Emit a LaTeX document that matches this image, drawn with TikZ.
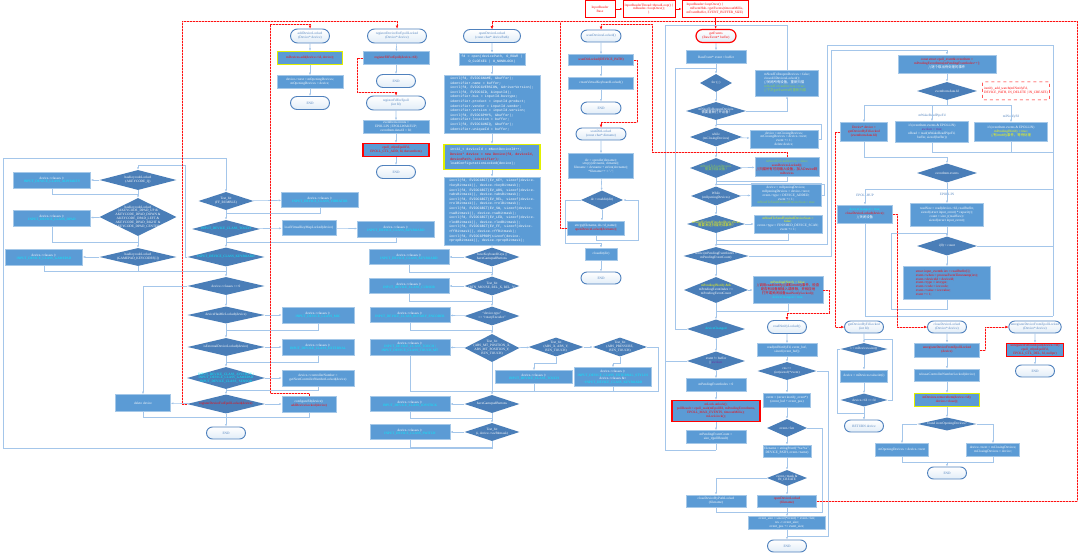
\documentclass[tikz,border=0pt]{standalone}
\usepackage{fontspec}
\setmainfont{Liberation Serif}
\setmonofont{Liberation Mono}
\newfontfamily\cjk{Noto Sans CJK SC}
\usepackage{tikz}
\usetikzlibrary{shapes.misc}
\usetikzlibrary{shapes.geometric}
\usetikzlibrary{positioning}
\usetikzlibrary{arrows.meta}
\definecolor{boxblue}{HTML}{5B9BD5}
\definecolor{decblue}{HTML}{4A7EB8}
\definecolor{lineblue}{HTML}{A4C6EA}
\definecolor{capblue}{HTML}{4F81BD}
\definecolor{cyantext}{HTML}{00F0FF}
\definecolor{greentext}{HTML}{92D050}
\definecolor{yellowtext}{HTML}{FFFF00}
\definecolor{hlyellow}{HTML}{E2F000}
\definecolor{purpletext}{HTML}{7030A0}
\definecolor{callred}{HTML}{FF1010}
\newcommand{\fs}{\fontsize{3.4pt}{3.9pt}\selectfont}
\newcommand{\fc}{\ttfamily\fontsize{3.4pt}{4.6pt}\selectfont}
\newcommand{\cyn}[1]{\textcolor{cyantext}{#1}}
\newcommand{\rdt}[1]{\textcolor{red}{#1}}
\newcommand{\grn}[1]{\textcolor{greentext}{#1}}
\newcommand{\ylw}[1]{\textcolor{yellowtext}{#1}}
\newcommand{\prp}[1]{\textcolor{purpletext}{#1}}
\tikzset{
sz/.style 2 args={minimum width=#1pt, minimum height=#2pt},
box/.style={rectangle, fill=boxblue, draw=boxblue!55!white, line width=0.5pt, text=white, font=\fs, align=center, inner sep=1pt},
codebox/.style={box, font=\fc, align=left},
dec/.style={diamond, fill=decblue, inner sep=0pt},
dectext/.style={text=white, font=\fs, align=center, inner sep=0pt},
term/.style={rounded rectangle, draw=capblue, line width=0.9pt, top color=white, bottom color=boxblue!18, text=capblue, font=\fs, align=center, inner sep=1pt},
hl/.style={draw=hlyellow, line width=1.1pt},
redframe/.style={draw=red, line width=1.1pt},
topbox/.style={rectangle, draw=red, line width=0.7pt, fill=white, text=red, font=\fs, align=center, inner sep=1pt},
note/.style={rectangle, rounded corners=1pt, draw=red, dashed, line width=0.5pt, fill=white, text=red, font=\fs, align=left, inner sep=1.5pt},
branch/.style={text=capblue, font=\fs, inner sep=0.5pt},
flow/.style={draw=lineblue, line width=0.6pt},
call/.style={color=callred, line width=0.9pt, dash pattern=on 2pt off 1pt, preaction={draw=red!30, solid, line width=0.9pt, -}, -{Latex[length=3pt,width=2.8pt]}},
}
\begin{document}
\begin{tikzpicture}[x=1pt, y=-1pt, >={Latex[length=2.5pt,width=2pt]}]
\fill[white] (0,0) rectangle (1080,553);
\useasboundingbox (0,0) rectangle (1080,553);

% entry from InputReader
\node[topbox, sz={30}{17}] (readerbase) at (600,9) {InputReader\\Base};
\node[topbox, sz={52}{17}] (readerthread) at (649,9) {InputReaderThread::threadLoop() \{\\mReader->loopOnce();\\\}};
\node[topbox, sz={66}{17}, align=left] (looponce) at (715,9) {InputReader::loopOnce() \{\\\quad mEventHub->getEvents(timeoutMillis,\\mEventBuffer, EVENT\_BUFFER\_SIZE)};

% addDeviceLocked
\node[term, sz={41}{14}] (adddev) at (310,36) {addDeviceLocked\\(Device* device)};
\node[box, hl, sz={65}{13}] (addmap) at (310,58) {\rdt{mDevices.add(device->id, device);}};
\node[box, sz={66}{13}] (addlist) at (310,82) {device->next = mOpeningDevices;\\mOpeningDevices = device;};
\node[term, sz={41}{13}] (addend) at (310,103) {END};

% registerDeviceForEpollLocked
\node[term, sz={61}{14}] (regdev) at (397,36) {registerDeviceForEpollLocked\\(Device* device)};
\node[box, sz={66}{13}] (regfd) at (396,58) {\rdt{registerFdForEpoll(device->fd)}};
\node[term, sz={41}{13}] (regend) at (396,81) {END};
\node[term, sz={61}{14}] (regepoll) at (396,103) {registerFdForEpoll\\(int fd)};
\node[box, sz={66}{13}] (evitem) at (396,127) {eventItem.events =\\EPOLLIN | EPOLLWAKEUP;\\eventItem.data.fd = fd;};
\node[box, redframe, sz={66}{13}] (epctl) at (396,150) {\rdt{epoll\_ctl(mEpollFd,}\\\rdt{EPOLL\_CTL\_ADD, fd, \&eventItem)}};
\node[term, sz={41}{13}] (epend) at (396,172) {END};

% openDeviceLocked
\node[term, sz={59}{13}] (opendev) at (492,36) {openDeviceLocked\\(const char* devicePath)};
\node[codebox, sz={66}{12}, align=center] (openfd) at (492,59) {fd = open(devicePath, O\_RDWR |\\O\_CLOEXEC | O\_NONBLOCK)};
\node[codebox, sz={96}{58}] (ident) at (492,104) {ioctl(fd, EVIOCGNAME, \&buffer);\\identifier.name = buffer;\\ioctl(fd, EVIOCGVERSION, \&driverVersion);\\ioctl(fd, EVIOCGID, \&inputId);\\identifier.bus = inputId.bustype;\\identifier.product = inputId.product;\\identifier.vendor = inputId.vendor;\\identifier.version = inputId.version;\\ioctl(fd, EVIOCGPHYS, \&buffer);\\identifier.location = buffer;\\ioctl(fd, EVIOCGUNIQ, \&buffer);\\identifier.uniqueId = buffer;};
\node[codebox, hl, sz={96}{25}] (newdev) at (492,157) {int32\_t deviceId = mNextDeviceId++;\\\rdt{Device* device = new Device(fd, deviceId,}\\\rdt{devicePath, identifier);}\\loadConfigurationLocked(device);};
\node[codebox, sz={96}{68}] (bits) at (492,211) {ioctl(fd, EVIOCGBIT(EV\_KEY, sizeof(device-\\>keyBitmask)), device->keyBitmask);\\ioctl(fd, EVIOCGBIT(EV\_ABS, sizeof(device-\\>absBitmask)), device->absBitmask);\\ioctl(fd, EVIOCGBIT(EV\_REL, sizeof(device-\\>relBitmask)), device->relBitmask);\\ioctl(fd, EVIOCGBIT(EV\_SW, sizeof(device-\\>swBitmask)), device->swBitmask);\\ioctl(fd, EVIOCGBIT(EV\_LED, sizeof(device-\\>ledBitmask)), device->ledBitmask);\\ioctl(fd, EVIOCGBIT(EV\_FF, sizeof(device-\\>ffBitmask)), device->ffBitmask);\\ioctl(fd, EVIOCGPROP(sizeof(device-\\>propBitmask)), device->propBitmask);};
\node[dec, sz={55}{19}] (haskbd) at (492,257) {};
\node[dectext] (haskbd-t) at (haskbd) {haveKeyboardKeys ||\\haveGamepadButtons};
\node[box, sz={80}{15}] (kbdcls) at (409,257) {device->classes |=\\\cyn{INPUT\_DEVICE\_CLASS\_KEYBOARD}};
\node[dec, sz={55}{19}] (hasmouse) at (492,286) {};
\node[dectext] (hasmouse-t) at (hasmouse) {Test\_bit\\(BTN\_MOUSE, REL\_X, REL\_Y)};
\node[box, sz={80}{15}] (cursorcls) at (409,286) {device->classes |=\\\cyn{INPUT\_DEVICE\_CLASS\_CURSOR}};
\node[dec, sz={55}{19}] (isrotary) at (492,316) {};
\node[dectext] (isrotary-t) at (isrotary) {``device.type''\\== ``rotaryEncoder''};
\node[box, sz={80}{15}] (rotarycls) at (410,315) {device->classes |=\\\cyn{INPUT\_DEVICE\_CLASS\_ROTARY\_ENCODER}};
\node[dec, sz={55}{28}] (hasmt) at (492,348) {};
\node[dectext] (hasmt-t) at (hasmt) {Test\_bit\\(ABS\_MT\_POSITION\_X,\\ABS\_MT\_POSITION\_Y,\\BTN\_TOUCH)};
\node[box, sz={80}{16}] (touchmtcls) at (410,347) {device->classes |=\\\cyn{INPUT\_DEVICE\_CLASS\_TOUCH |}\\\cyn{INPUT\_DEVICE\_CLASS\_TOUCH\_MT}};
\node[dec, sz={55}{19}] (hastouch) at (556,347) {};
\node[dectext] (hastouch-t) at (hastouch) {Test\_bit\\(ABS\_X, ABS\_Y,\\BTN\_TOUCH)};
\node[box, sz={77}{13}] (touchcls) at (534,377) {device->classes |=\\\cyn{INPUT\_DEVICE\_CLASS\_TOUCH}};
\node[dec, sz={54}{19}] (hasstylus) at (620,347) {};
\node[dectext] (hasstylus-t) at (hasstylus) {Test\_bit\\(ABS\_PRESSURE,\\BTN\_TOUCH)};
\node[box, sz={77}{19}] (styluscls) at (613,377) {device->classes |=\\\cyn{INPUT\_DEVICE\_CLASS\_EXTERNAL\_STYLUS}\\device->classes \&=\\\cyn{\textasciitilde INPUT\_DEVICE\_CLASS\_KEYBOARD}};
\node[dec, sz={55}{18}] (hasgp) at (492,404) {};
\node[dectext] (hasgp-t) at (hasgp) {haveGamepadButtons};
\node[box, sz={80}{15}] (joycls) at (410,404) {device->classes |=\\\cyn{INPUT\_DEVICE\_CLASS\_JOYSTICK}};
\node[dec, sz={55}{18}] (hassw) at (492,432) {};
\node[dectext] (hassw-t) at (hassw) {Test\_bit\\(i, device->swBitmask)};
\node[box, sz={80}{15}] (swcls) at (410,432) {device->classes |=\\\cyn{INPUT\_DEVICE\_CLASS\_SWITCH}};

% class checks, second trunk
\node[dec, sz={55}{18}] (hasrumble) at (226,201) {};
\node[dectext] (hasrumble-t) at (hasrumble) {Test\_bit\\(FF\_RUMBLE)};
\node[box, sz={77}{15}] (vibcls) at (320,200) {device->classes |=\\\cyn{INPUT\_DEVICE\_CLASS\_VIBRATOR}};
\node[dec, sz={68}{18}] (istouch) at (226,229) {};
\node[dectext] (istouch-t) at (istouch) {\cyn{INPUT\_DEVICE\_CLASS\_TOUCH}};
\node[box, sz={54}{15}] (vkeymap) at (309,228) {loadVirtualKeyMapLocked(device)};
\node[box, sz={77}{16}] (kbdcls2) at (396,229) {device->classes |=\\\cyn{INPUT\_DEVICE\_CLASS\_KEYBOARD}};
\node[dec, sz={77}{19}] (iskbd) at (226,257) {};
\node[dectext] (iskbd-t) at (iskbd) {\cyn{INPUT\_DEVICE\_CLASS\_KEYBOARD}};
\node[dec, sz={77}{18}] (noclass) at (226,286) {};
\node[dectext] (noclass-t) at (noclass) {device->classes == 0};
\node[dec, sz={77}{17}] (hasmic) at (226,315) {};
\node[dectext] (hasmic-t) at (hasmic) {deviceHasMicLocked(device)};
\node[box, sz={72}{16}] (miccls) at (318,315) {device->classes |=\\\cyn{INPUT\_DEVICE\_CLASS\_MIC}};
\node[dec, sz={77}{18}] (isext) at (226,347) {};
\node[dectext] (isext-t) at (isext) {isExternalDeviceLocked(device)};
\node[box, sz={72}{16}] (extcls) at (318,347) {device->classes |=\\\cyn{INPUT\_DEVICE\_CLASS\_EXTERNAL}};
\node[dec, sz={78}{22}] (isctrl) at (226,378) {};
\node[dectext] (isctrl-t) at (isctrl) {\cyn{INPUT\_DEVICE\_CLASS\_JOYSTICK |}\\\cyn{INPUT\_DEVICE\_CLASS\_GAMEPAD}\\\cyn{INPUT\_DEVICE\_CLASS\_ SENSOR}};
\node[box, sz={72}{16}] (ctrlnum) at (318,378) {device->controllerNumber =\\getNextControllerNumberLocked(device)};
\node[dec, sz={78}{19}] (regq) at (226,404) {};
\node[dectext] (regq-t) at (regq) {\rdt{registerDeviceForEpollLocked(device)}};
\node[box, sz={54}{16}] (cfgfd) at (309,404) {configureFd(device);\\\rdt{addDeviceLocked(device)}};
\node[box, sz={55}{17}] (deldev) at (143,403) {delete device};
\node[term, sz={41}{12}] (openend) at (226,433) {END};

% key checks
\node[dec, sz={77}{20}] (keyq) at (138,180) {};
\node[dectext] (keyq-t) at (keyq) {hasKeycodeLocked\\(AKEYCODE\_Q)};
\node[box, sz={77}{16}] (alphacls) at (52,180) {device->classes |=\\\cyn{INPUT\_DEVICE\_CLASS\_ALPHAKEY}};
\node[dec, sz={77}{38}] (keydpad) at (138,217) {};
\node[dectext] (keydpad-t) at (keydpad) {hasKeycodeLocked\\(AKEYCODE\_DPAD\_UP \&\\AKEYCODE\_DPAD\_DOWN \&\\AKEYCODE\_DPAD\_LEFT \&\\AKEYCODE\_DPAD\_RIGHT \&\\AKEYCODE\_DPAD\_CENTER)};
\node[box, sz={77}{16}] (dpadcls) at (52,218) {device->classes |=\\\cyn{INPUT\_DEVICE\_CLASS\_DPAD}};
\node[dec, sz={77}{18}] (keygp) at (138,257) {};
\node[dectext] (keygp-t) at (keygp) {hasKeycodeLocked\\(GAMEPAD\_KEYCODES[i])};
\node[box, sz={77}{16}] (gpcls) at (44,257) {device->classes |=\\\cyn{INPUT\_DEVICE\_CLASS\_GAMEPAD}};

% scanDevicesLocked / scanDirLocked
\node[term, sz={42}{12}] (scandevs) at (601,36) {scanDevicesLocked()};
\node[box, sz={65}{11}] (scandir) at (601,60) {\rdt{scanDirLocked(DEVICE\_PATH)}};
\node[box, sz={65}{12}] (vkbd) at (601,83) {createVirtualKeyboardLocked()};
\node[term, sz={42}{12}] (scanend) at (601,108) {END};
\node[term, sz={52}{12}] (scandirfn) at (601,134) {scanDirLocked\\(const char* dirname)};
\node[box, sz={65}{25}] (opendir) at (601,166) {dir = opendir(dirname);\\strcpy(devname, dirname);\\filename = devname + strlen(devname);\\*filename++ = '/';};
\node[dec, sz={42}{19}] (readdir) at (602,200) {};
\node[dectext] (readdir-t) at (readdir) {de = readdir(dir)};
\node[box, sz={57}{14}] (openentry) at (596,228) {strcpy(filename, de->d\_name);\\\rdt{openDeviceLocked(devname);}};
\node[box, sz={32}{12}] (closedir) at (601,254) {closedir(dir)};
\node[term, sz={42}{12}] (dirend) at (601,278) {END};

% getEvents
\node[term, draw=red, line width=1.2pt, text=red, sz={42}{13}] (getev) at (716,36) {getEvents\\(RawEvent* buffer)};
\node[box, sz={60}{13}] (evbuf) at (716,57) {RawEvent* event = buffer};
\node[dec, sz={32}{18}] (forever) at (716,83) {};
\node[dectext] (forever-t) at (forever) {for (;;)};
\node[dec, sz={60}{18}] (reopen) at (716,111) {};
\node[dectext] (reopen-t) at (reopen) {mNeedToReopenDevices\\{\cjk 需要重新打开设备?}};
\node[box, sz={63}{26}, align=left] (reopenb) at (787,83) {mNeedToReopenDevices = false;\\closeAllDevicesLocked();\\{\cjk //关闭所有设备，重新扫描}\\\grn{mNeedToScanDevices = true;}\\\grn{{\cjk //下次getEvents时重新扫描}}};
\node[dec, sz={52}{19}] (closing) at (716,137) {};
\node[dectext] (closing-t) at (closing) {while\\(mClosingDevices)};
\node[box, sz={68}{18}] (closingb) at (784,139) {device = mClosingDevices;\\mClosingDevices = device->next;\\event += 1;\\delete device;};
\node[dec, sz={52}{20}] (scanq) at (716,168) {};
\node[dectext] (scanq-t) at (scanq) {\grn{mNeedToScanDevices}\\\grn{{\cjk 需要扫描设备?}}};
\node[box, sz={64}{19}] (scanb) at (787,167) {\grn{mNeedToScanDevices = false;}\\\rdt{scanDevicesLocked();}\\\rdt{{\cjk //扫描所有可用输入设备，加入Device到}}\\\rdt{mDevices}};
\node[dec, sz={50}{19}] (opening) at (716,196) {};
\node[dectext] (opening-t) at (opening) {While\\(mOpeningDevices)};
\node[box, sz={70}{23}] (openingb) at (786,195) {device = mOpeningDevices;\\mOpeningDevices = device->next;\\event->type = DEVICE\_ADDED;\\event += 1;\\\grn{mNeedToSendFinishedDeviceScan = true}};
\node[dec, sz={58}{18}] (finq) at (716,224) {};
\node[dectext] (finq-t) at (finq) {\ylw{mNeedToSendFinishedDeviceScan}\\\ylw{{\cjk 需要发送扫描完成事件?}}};
\node[box, sz={68}{18}] (finb) at (788,224) {\ylw{mNeedToSendFinishedDeviceScan =}\\\ylw{false;}\\event->type = FINISHED\_DEVICE\_SCAN;\\event += 1;};
\node[dec, sz={65}{18}] (pending) at (716,256) {};
\node[dectext] (pending-t) at (pending) {while (mPendingEventIndex <\\mPendingEventCount)};
\node[dec, sz={64}{26}] (inotq) at (716,290) {};
\node[dectext] (inotq-t) at (inotq) {\ylw{mPendingINotify \&\&}\\mPendingEventIndex >=\\mPendingEventCount};
\node[box, sz={70}{27}] (notifyb) at (788,290) {\ylw{mPendingINotify = false;}\\\rdt{{\cjk //调用readNotify()读取inotify事件，检查}}\\\rdt{{\cjk 是否有设备被插入或移除，并相应地}}\\\rdt{{\cjk 打开或关闭设备}readNotifyLocked();}\\\cyn{deviceChanged = true;}};
\node[dec, sz={58}{19}] (changed) at (716,329) {};
\node[dectext] (changed-t) at (changed) {\cyn{deviceChanged}};
\node[dec, sz={58}{19}] (awake) at (716,361) {};
\node[dectext] (awake-t) at (awake) {event != buffer\\|| \prp{awoken}};
\node[box, sz={60}{13}] (pidx) at (716,385) {mPendingEventIndex = 0};
\node[box, redframe, sz={88}{21}] (pollwait) at (716,411) {\rdt{mLock.unlock();}\\\rdt{pollResult = epoll\_wait(mEpollFd, mPendingEventItems,}\\\rdt{EPOLL\_MAX\_EVENTS, timeoutMillis);}\\\rdt{mLock.lock();}};
\node[box, sz={60}{13}] (pcount) at (716,437) {mPendingEventCount =\\size\_t(pollResult)};

% readNotifyLocked
\node[term, sz={41}{13}] (rnotify) at (787,327) {readNotifyLocked()};
\node[box, sz={60}{13}] (rread) at (787,350) {read(mINotifyFd, event\_buf,\\sizeof(event\_buf))};
\node[dec, sz={59}{18}] (resq) at (787,371) {};
\node[dectext] (resq-t) at (resq) {res >=\\(int)sizeof(*event)};
\node[box, sz={47}{14}] (revent) at (787,400) {event = (struct inotify\_event*)\\(event\_buf + event\_pos)};
\node[dec, sz={40}{18}] (lenq) at (787,428) {};
\node[dectext] (lenq-t) at (lenq) {event->len};
\node[box, sz={48}{12}] (fname) at (787,451) {filename = stringPrintf(``\%s/\%s'',\\DEVICE\_PATH, event->name)};
\node[dec, sz={40}{16}] (maskq) at (787,478) {};
\node[dectext] (maskq-t) at (maskq) {event->mask \&\\IN\_CREATE};
\node[box, sz={60}{12}] (rclose) at (716,501) {closeDeviceByPathLocked\\(filename)};
\node[box, sz={59}{12}] (ropen) at (787,501) {\rdt{openDeviceLocked}\\\rdt{(filename)}};
\node[box, sz={77}{13}] (rsize) at (787,523) {event\_size = sizeof(*event) + event->len;\\res -= event\_size;\\event\_pos += event\_size;};
\node[term, sz={41}{12}] (rend) at (787,546) {END};

% event processing
\node[box, sz={98}{18}] (epev) at (947,64) {\rdt{const struct epoll\_event\& eventItem =}\\\rdt{mPendingEventItems[mPendingEventIndex++];}\\{\cjk //逐个取出待处理的事件}};
\node[dec, sz={60}{18}] (fdq) at (947,91) {};
\node[dectext] (fdq-t) at (fdq) {eventItem.data.fd};
\node[note, sz={66}{18}] (watchnote) at (1016,91) {inotify\_add\_watch(mINotifyFd,\\DEVICE\_PATH, IN\_DELETE | IN\_CREATE)};
\node[box, sz={47}{19}] (getdev) at (864,132) {\rdt{Device* device =}\\\rdt{getDeviceByFdLocked}\\\rdt{(eventItem.data.fd)}};
\node[box, sz={73}{21}] (wakeb) at (932,132) {if (eventItem.events \& EPOLLIN)\\\prp{awoken = true;}\\nRead = read(mWakeReadPipeFd,\\buffer, sizeof(buffer))};
\node[box, sz={73}{19}] (inotb) at (1011,132) {if (eventItem.events \& EPOLLIN)\\\ylw{mPendingINotify = true;}\\\ylw{{\cjk //有inotify事件，等待处理}}};
\node[branch] (wakelbl) at (932,116) {mWakeReadPipeFd};
\node[branch] (inotlbl) at (1011,117) {mINotifyFd};
\node[dec, sz={60}{19}] (evq) at (947,173) {};
\node[dectext] (evq-t) at (evq) {eventItem.events};
\node[branch] (huplbl) at (865,195) {EPOLLHUP};
\node[branch] (inlbl) at (947,194) {EPOLLIN};
\node[box, sz={55}{18}] (hupb) at (865,214) {\cyn{deviceChanged = true;}\\\rdt{closeDeviceLocked(device);}\\{\cjk //关闭设备}};
\node[box, sz={73}{23}] (readb) at (947,215) {readSize = read(device->fd, readBuffer,\\sizeof(struct input\_event) * capacity);\\count = size\_t(readSize) /\\sizeof(struct input\_event);};
\node[dec, sz={60}{19}] (iloop) at (947,246) {};
\node[dectext] (iloop-t) at (iloop) {i(0) < count};
\node[box, sz={87}{33}, align=left] (evfill) at (947,283) {\rdt{struct input\_event\& iev = readBuffer[i];}\\\rdt{event->when = processEventTimestamp(iev);}\\\rdt{event->deviceId = deviceId;}\\\rdt{event->type = iev.type;}\\\rdt{event->code = iev.code;}\\\rdt{event->value = iev.value;}\\\rdt{event += 1;}};

% getDeviceByFdLocked
\node[term, sz={41}{12}] (gdf) at (864,327) {getDeviceByFdLocked\\(int fd)};
\node[dec, sz={47}{12}] (gdfi) at (864,349) {};
\node[dectext] (gdfi-t) at (gdfi) {i < mDevices.size()};
\node[box, sz={47}{12}] (gdfval) at (864,376) {device = mDevices.valueAt(i)};
\node[dec, sz={47}{13}] (gdfeq) at (864,400) {};
\node[dectext] (gdfeq-t) at (gdfeq) {device->fd == fd};
\node[term, sz={41}{12}] (gdfret) at (864,426) {RETURN device};

% closeDeviceLocked
\node[term, sz={41}{12}] (cdc) at (947,327) {closeDeviceLocked\\(Device* device)};
\node[box, sz={65}{14}] (unreg) at (947,350) {\rdt{unregisterDeviceFromEpollLocked}\\\rdt{(device)}};
\node[box, sz={65}{12}] (relctrl) at (947,375) {releaseControllerNumberLocked(device)};
\node[box, hl, sz={65}{13}] (rmdev) at (947,400) {\rdt{mDevices.removeItem(device->id);}\\\rdt{device->close();}};
\node[dec, sz={59}{13}] (foundq) at (947,424) {};
\node[dectext] (foundq-t) at (foundq) {found in mOpeningDevices?};
\node[box, sz={53}{13}] (openrm) at (902,450) {mOpeningDevices = device->next};
\node[box, sz={53}{13}] (closeadd) at (993,450) {device->next = mClosingDevices;\\mClosingDevices = device;};
\node[term, sz={41}{12}] (cdcend) at (947,473) {END};

% unregisterDeviceFromEpollLocked
\node[term, sz={50}{12}] (uepoll) at (1035,327) {unregisterDeviceFromEpollLocked\\(Device* device)};
\node[box, redframe, sz={57}{13}] (ufd) at (1035,350) {\rdt{unregisterFdFromEpoll(device->fd)}\\\rdt{epoll\_ctl(mEpollFd,}\\\rdt{EPOLL\_CTL\_DEL, fd, nullptr)}};
\node[term, sz={41}{12}] (uend) at (1035,371) {END};

% ---------- connectors ----------
\draw[red, line width=0.7pt, ->] (readerbase) -- (readerthread);
\draw[red, line width=0.7pt, ->] (readerthread) -- (looponce);
\draw[red, line width=0.8pt, ->] (looponce) -- (getev);

\draw[flow, ->] (adddev) -- (addmap);
\draw[flow, ->] (addmap) -- (addlist);
\draw[flow, ->] (addlist) -- (addend);
\draw[flow, ->] (regdev) -- (regfd);
\draw[flow, ->] (regfd) -- (regend);
\draw[flow, ->] (regepoll) -- (evitem);
\draw[flow, ->] (evitem) -- (epctl);
\draw[flow, ->] (epctl) -- (epend);

\draw[flow, ->] (opendev) -- (openfd);
\draw[flow, ->] (openfd) -- (ident);
\draw[flow, ->] (ident) -- (newdev);
\draw[flow, ->] (newdev) -- (bits);
\draw[flow, ->] (bits) -- (haskbd);
\draw[flow, ->] (haskbd) -- (kbdcls);
\draw[flow] (kbdcls.south) |- (492,272);
\draw[flow, ->] (haskbd) -- (hasmouse);
\draw[flow, ->] (hasmouse) -- (cursorcls);
\draw[flow] (cursorcls.south) |- (492,301);
\draw[flow, ->] (hasmouse) -- (isrotary);
\draw[flow, ->] (isrotary) -- (rotarycls);
\draw[flow] (rotarycls.south) |- (492,330);
\draw[flow, ->] (isrotary) -- (hasmt);
\draw[flow, ->] (hasmt) -- (touchmtcls);
\draw[flow, ->] (hasmt) -- (hastouch);
\draw[flow, ->] (hastouch) -- (hasstylus);
\draw[flow, ->] (hastouch.south) -- (556,363) -| (touchcls.north);
\draw[flow, ->] (hasstylus.south) -- (620,363) -| (styluscls.north);
\draw[flow] (hasstylus.east) -- (658,347) |- (492,391);
\draw[flow] (touchmtcls.south) |- (492,391);
\draw[flow] (touchcls.south) -- (534,391);
\draw[flow] (styluscls.south) -- (613,391);
\draw[flow, ->] (hasmt) -- (hasgp);
\draw[flow, ->] (hasgp) -- (joycls);
\draw[flow] (joycls.south) |- (492,418);
\draw[flow, ->] (hasgp) -- (hassw);
\draw[flow, ->] (hassw) -- (swcls);
\draw[flow] (swcls.south) |- (492,447);
\draw[flow, ->] (hassw.south) -- (492,448) -| (3,158) -| (hasrumble.north);

\draw[flow, ->] (hasrumble) -- (vibcls);
\draw[flow] (vibcls.south) |- (226,213);
\draw[flow, ->] (hasrumble) -- (istouch);
\draw[flow, ->] (istouch) -- (vkeymap);
\draw[flow, ->] (vkeymap) -- (kbdcls2);
\draw[flow] (kbdcls2.south) |- (226,242);
\draw[flow, ->] (istouch) -- (iskbd);
\draw[flow, ->] (iskbd.west) -| (185,165) -| (keyq.north);
\draw[flow, ->] (keyq) -- (alphacls);
\draw[flow] (alphacls.south) |- (138,194);
\draw[flow, ->] (keyq) -- (keydpad);
\draw[flow, ->] (keydpad) -- (dpadcls);
\draw[flow] (dpadcls.south) |- (138,242);
\draw[flow, ->] (keydpad) -- (keygp);
\draw[flow, ->] (keygp) -- (gpcls);
\draw[flow] (gpcls.south) |- (226,271);
\draw[flow] (keygp.south) -- (138,271);
\draw[flow, ->] (iskbd) -- (noclass);
\draw[flow, ->] (noclass.west) -| (deldev.north);
\draw[flow, ->] (noclass) -- (hasmic);
\draw[flow, ->] (hasmic) -- (miccls);
\draw[flow] (miccls.south) |- (226,330);
\draw[flow, ->] (hasmic) -- (isext);
\draw[flow, ->] (isext) -- (extcls);
\draw[flow] (extcls.south) |- (226,362);
\draw[flow, ->] (isext) -- (isctrl);
\draw[flow, ->] (isctrl) -- (ctrlnum);
\draw[flow] (ctrlnum.south) |- (226,390);
\draw[flow, ->] (isctrl) -- (regq);
\draw[flow, ->] (regq) -- (cfgfd);
\draw[flow, ->] (regq) -- (deldev);
\draw[flow] (deldev.south) |- (309,417) -- (cfgfd.south);
\draw[flow, ->] (regq) -- (openend);

\draw[flow, ->] (scandevs) -- (scandir);
\draw[flow, ->] (scandir) -- (vkbd);
\draw[flow, ->] (vkbd) -- (scanend);
\draw[flow, ->] (scandirfn) -- (opendir);
\draw[flow, ->] (opendir) -- (readdir);
\draw[flow, ->] (readdir.south) -- (openentry.north -| readdir.south);
\draw[flow, ->] (openentry.south) -- (596,240) -| (638,200) -- (readdir.east);
\draw[flow, ->] (readdir.west) -| (565,243) -| (closedir.north);
\draw[flow, ->] (closedir) -- (dirend);

\draw[flow, ->] (getev) -- (evbuf);
\draw[flow, ->] (evbuf) -- (forever);
\draw[flow, ->] (forever) -- (reopen);
\draw[flow, ->] (reopen.east) -| (reopenb.south);
\draw[flow] (reopenb.north) |- (665,25) -- (665,450) -- (716,450);
\draw[flow] (pcount.south) -- (716,450);
\draw[flow] (awake.west) -- (665,361);
\draw[flow] (changed.west) -- (675,329) |- (716,68);
\draw[flow, ->] (reopen) -- (closing);
\draw[flow, ->] (closing) -- (closingb);
\draw[flow] (closingb.east) -- (821,139) |- (716,124);
\draw[flow, ->] (closing) -- (scanq);
\draw[flow, ->] (scanq) -- (scanb);
\draw[flow] (scanb.south) |- (716,181);
\draw[flow, ->] (scanq) -- (opening);
\draw[flow, ->] (opening) -- (openingb);
\draw[flow] (openingb.east) -- (824,195) |- (716,184);
\draw[flow, ->] (opening) -- (finq);
\draw[flow, ->] (finq) -- (finb);
\draw[flow] (finb.south) |- (716,240);
\draw[flow, ->] (finq) -- (pending);
\draw[flow, ->] (pending.east) -- (831,256) |- (947,50) -- (epev.north);
\draw[flow, ->] (pending) -- (inotq);
\draw[flow, ->] (inotq) -- (notifyb);
\draw[flow] (notifyb.south) |- (716,311);
\draw[flow, ->] (inotq) -- (changed);
\draw[flow, ->] (changed) -- (awake);
\draw[flow, ->] (awake) -- (pidx);
\draw[flow, ->] (pidx) -- (pollwait);
\draw[flow, ->] (pollwait) -- (pcount);

\draw[flow, ->] (epev) -- (fdq);
\draw[flow, ->] (fdq.south) -- (947,105) -| (getdev.north);
\draw[flow, ->] (947,105) -| (wakeb.north);
\draw[flow, ->] (947,105) -| (inotb.north);
\draw[flow] (wakeb.south) |- (1053,152);
\draw[flow] (inotb.south) -- (1011,152);
\draw[flow, ->] (getdev.south) |- (947,157) -- (evq.north);
\draw[flow, ->] (evq.south) -- (947,189) -| (hupb.north);
\draw[flow, ->] (947,189) -- (readb.north);
\draw[flow] (947,189) -- (1053,189);
\draw[flow, ->] (readb) -- (iloop);
\draw[flow, ->] (iloop) -- (evfill);
\draw[flow, ->] (evfill.south) -- (947,309) -| (891,233) -| (iloop.north);
\draw[flow] (iloop.east) -- (1053,246);
\draw[flow] (hupb.south) |- (1053,316);
\draw[flow] (1053,316) -- (1053,45) -| (827,244) -- (716,244);

\draw[flow, ->] (gdf) -- (gdfi);
\draw[flow, ->] (gdfi) -- (gdfval);
\draw[flow, ->] (gdfval) -- (gdfeq);
\draw[flow, ->] (gdfeq) -- (gdfret);
\draw[flow] (gdfeq.east) -| (892,339) -- (864,339);
\draw[flow, ->] (gdfi.west) -| (837,413) -- (864,413) -- (gdfret.north);

\draw[flow, ->] (cdc) -- (unreg);
\draw[flow, ->] (unreg) -- (relctrl);
\draw[flow, ->] (relctrl) -- (rmdev);
\draw[flow, ->] (rmdev) -- (foundq);
\draw[flow, ->] (foundq.west) -| (openrm.north);
\draw[flow, ->] (foundq.east) -| (closeadd.north);
\draw[flow] (openrm.south) |- (993,462) -- (closeadd.south);
\draw[flow, ->] (947,462) -- (cdcend.north);
\draw[flow, ->] (uepoll) -- (ufd);
\draw[flow, ->] (ufd) -- (uend);

\draw[flow, ->] (rnotify) -- (rread);
\draw[flow, ->] (rread) -- (resq);
\draw[flow, ->] (resq) -- (revent);
\draw[flow, ->] (revent) -- (lenq);
\draw[flow, ->] (lenq) -- (fname);
\draw[flow, ->] (fname) -- (maskq);
\draw[flow, ->] (maskq) -- (ropen);
\draw[flow, ->] (maskq.west) -| (rclose.north);
\draw[flow] (lenq.east) -| (822,512) -- (787,512);
\draw[flow] (rclose.south) |- (787,512);
\draw[flow, ->] (ropen) -- (rsize);
\draw[flow] (resq.east) -| (828,536) -- (787,536);
\draw[flow, ->] (rsize) -- (rend);

% calls (red dotted)
\draw[call] (regq.west) -- (182,404) |- (397,21) -- (regdev.north);
\draw[call] (cfgfd.north) -- (309,393) -| (270,24) -| (adddev.north);
\draw[call] (regfd.west) -| (357,92) -| (regepoll.north);
\draw[call] (openentry.west) -| (560,21) -| (opendev.north);
\draw[call] (scandir.east) -| (637,122) -| (scandirfn.north);
\draw[call] (scanb.north) |- (652,152) |- (601,24) -- (scandevs.north);
\draw[call] (ropen.east) -| (1077,21) -| (opendev.north);
\draw[call] (notifyb.east) -- (829,290) |- (787,313) -- (rnotify.north);
\draw[call] (getdev.west) -- (835,132) |- (gdf.west);
\draw[call] (hupb.east) -- (897,214) |- (cdc.west);
\draw[call] (unreg.east) -- (985,350) |- (uepoll.west);
\end{tikzpicture}
\end{document}
